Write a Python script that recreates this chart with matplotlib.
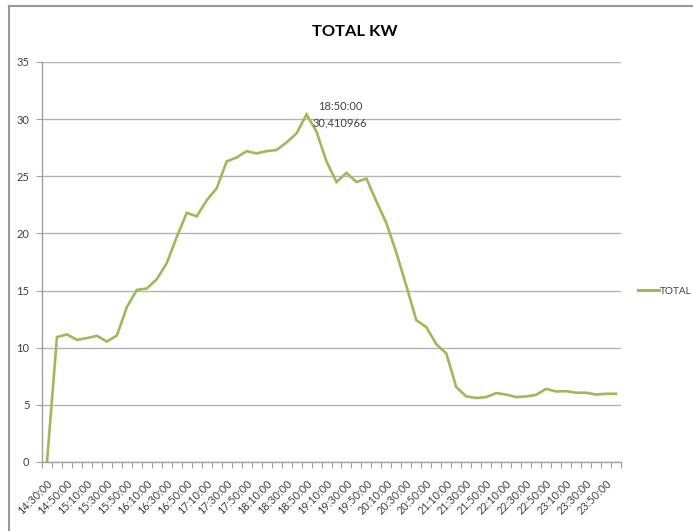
import matplotlib
matplotlib.use("Agg")
import matplotlib.pyplot as plt
from matplotlib.lines import Line2D
from matplotlib.transforms import ScaledTranslation
import numpy as np

# Times every 10 minutes from 14:30 to 00:00
times = [f"{(14 * 60 + 30 + 10 * i) // 60 % 24:02d}:{(30 + 10 * i) % 60:02d}:00" for i in range(58)]

total_kw = [
    0.0, 10.93, 11.16, 10.69, 10.84, 11.04, 10.54, 11.07, 13.55, 15.06,
    15.18, 16.0, 17.4, 19.7, 21.8, 21.5, 22.9, 23.95, 26.3, 26.65,
    27.2, 27.0, 27.2, 27.3, 27.97, 28.76, 30.410966, 28.9, 26.3, 24.5,
    25.3, 24.5, 24.8, 22.8, 20.9, 18.3, 15.4, 12.4, 11.8, 10.3,
    9.5, 6.55, 5.74, 5.6, 5.68, 6.03, 5.9, 5.68, 5.74, 5.88,
    6.4, 6.17, 6.2, 6.06, 6.06, 5.9, 5.97, 5.97,
]

peak_idx = 26
line_color = "#9BBB59"
grid_color = "#b4b4b4"

plt.rcParams['font.family'] = ['Lato', 'DejaVu Sans']

W, H = 693, 531
fig = plt.figure(figsize=(W / 100, H / 100), dpi=100)
ax = fig.add_axes([42 / W, 1 - 462 / H, (621 - 42) / W, (462 - 62) / H])

x = np.arange(len(total_kw))
ax.plot(x, total_kw, color=line_color, lw=1.9, label="TOTAL", solid_joinstyle='miter')

ax.set_xlim(-0.5, len(total_kw) - 0.5)
ax.set_ylim(0, 35)
ax.set_yticks(range(0, 36, 5))
ax.yaxis.grid(True, color=grid_color, lw=1.0)
ax.set_axisbelow(True)

for s in ['top', 'right']:
    ax.spines[s].set_visible(False)
for s in ['left', 'bottom']:
    ax.spines[s].set_color("#a0a0a0")
    ax.spines[s].set_linewidth(1.0)

ax.set_xticks(x[::2])
ax.set_xticklabels(times[::2], rotation=45, ha='right', va='center',
                   rotation_mode='anchor', fontsize=7.8, color="#404040")
ax.set_xticks(np.arange(-0.5, len(total_kw)), minor=True)
ax.tick_params(axis='x', which='major', length=0, pad=14)
ax.tick_params(axis='x', which='minor', length=4, color="#a0a0a0", width=0.8)
ax.tick_params(axis='y', length=4, color="#a0a0a0", width=0.8, labelsize=8,
               labelcolor="#404040", pad=5)
shift = ScaledTranslation(4 / 100, 0, fig.dpi_scale_trans)
for lab in ax.get_xticklabels():
    lab.set_transform(lab.get_transform() + shift)

ax.annotate(f"{times[peak_idx]}\n{str(total_kw[peak_idx]).replace('.', ',')}",
            xy=(peak_idx, total_kw[peak_idx]), xytext=(24, 0), textcoords='offset points',
            ha='center', va='center', fontsize=8, color="#404040", linespacing=1.65)

fig.text(355 / W, 1 - 32 / H, "TOTAL KW", ha='center', va='center',
         fontsize=11.8, fontweight='bold', color="#000000")

fig.legend(handles=[Line2D([0], [0], color=line_color, lw=2.2)], labels=["TOTAL"],
           loc='center left', bbox_to_anchor=(638 / W, 1 - 291 / H), frameon=False,
           borderpad=0, borderaxespad=0, fontsize=7.2, handlelength=2.1,
           handletextpad=0.1, labelcolor="#404040")

# chart border (cut on right and bottom like the screenshot)
fig.add_artist(Line2D([8.5 / W, 8.5 / W], [0, 1 - 6 / H], color="#999999", lw=1.5,
                      transform=fig.transFigure))
fig.add_artist(Line2D([8.5 / W, 1], [1 - 6 / H, 1 - 6 / H], color="#999999", lw=1.5,
                      transform=fig.transFigure))

fig.savefig("out.png", dpi=100)
